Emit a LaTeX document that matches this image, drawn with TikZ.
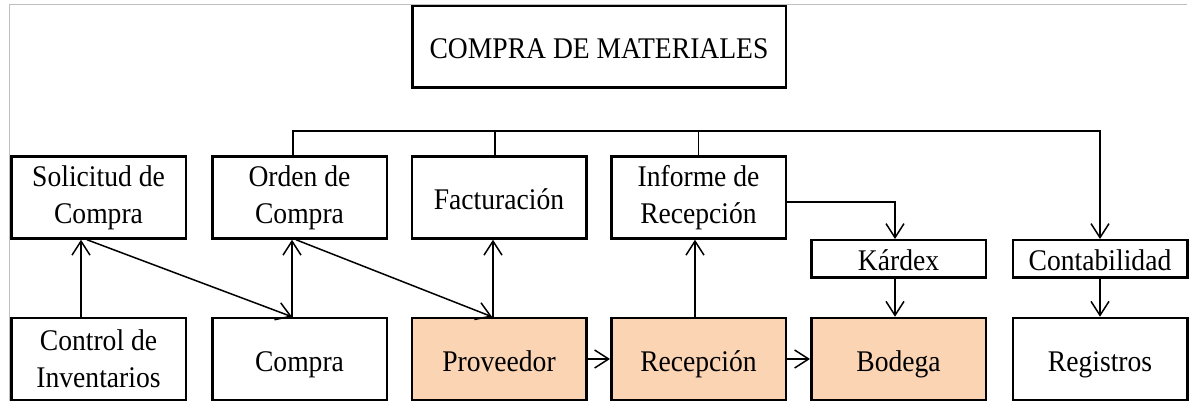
\documentclass[tikz,border=0pt]{standalone}
\usepackage{fontspec}
\setmainfont[FakeStretch=0.92]{Liberation Serif}
\usetikzlibrary{arrows.meta}
\definecolor{peach}{HTML}{FBD4B4}
\begin{document}
\begin{tikzpicture}[x=1pt,y=-1pt,
   every node/.style={font=\fontsize{30}{37}\selectfont},
   box/.style={draw,line width=2.5pt,inner sep=0pt,align=center,
      minimum width=174.5pt,minimum height=82pt},
   one line/.style={text height=26pt,text depth=2pt},
   small box/.style={box,one line,minimum height=37.5pt},
   stage/.style={box,one line,fill=peach},
   conn/.style={line width=1.5pt},
   arr/.style={conn,-{Straight Barb[length=14pt,width=18pt,line width=1.5pt]}}]
\useasboundingbox (0,0) rectangle (1191,403);
\draw[black!25,line width=1pt] (9,401) -- (9,5) -- (1187,5);
\node[box,one line,minimum width=373.5pt,minimum height=81.5pt] (title) at (599,47) {COMPRA DE MATERIALES};
\node[box] (sol) at (98.5,197.5) {Solicitud de\\Compra};
\node[box] (orden) at (299.5,197.5) {Orden de\\Compra};
\node[box,one line] (fact) at (499,197.5) {Facturación};
\node[box] (inf) at (698.5,197.5) {Informe de\\Recepción};
\node[small box] (kardex) at (898.5,259) {Kárdex};
\node[small box] (conta) at (1100,259) {Contabilidad};
\node[box] (control) at (98.5,359) {Control de\\Inventarios};
\node[box,one line] (compra) at (299.5,359) {Compra};
\node[stage] (prov) at (499,359) {Proveedor};
\node[stage] (recep) at (698.5,359) {Recepción};
\node[stage] (bodega) at (898.5,359) {Bodega};
\node[box,one line] (reg) at (1100,359) {Registros};
\coordinate (bus) at (600,131);
\draw[arr] ([xshift=-6.5pt]orden.north) |- (bus -| conta.north) -- (conta.north);
\draw[conn] ([xshift=-4pt]fact.north) |- (bus);
\draw[conn] (inf.north) -- (inf.north |- bus);
\draw[arr] ([xshift=-17.5pt]control.north) -- ([xshift=-17.5pt]sol.south);
\draw[arr] ([xshift=-11.5pt]sol.south) -- ([xshift=-7.5pt]compra.north);
\draw[arr] ([xshift=-7.5pt]compra.north) -- ([xshift=-7.5pt]orden.south);
\draw[arr] ([xshift=-3.5pt]orden.south) -- ([xshift=-7pt]prov.north);
\draw[arr] ([xshift=-6pt]prov.north) -- ([xshift=-6pt]fact.south);
\draw[arr] (prov.east) -- (recep.west);
\draw[arr] ([xshift=-3.5pt]recep.north) -- ([xshift=-3.5pt]inf.south);
\draw[arr] (recep.east) -- (bodega.west);
\draw[arr] ([yshift=-4.5pt]inf.east) -| ([xshift=-3.5pt]kardex.north);
\draw[arr] ([xshift=-3.5pt]kardex.south) -- ([xshift=-3.5pt]bodega.north);
\draw[arr] (conta.south) -- (reg.north);
\end{tikzpicture}
\end{document}
